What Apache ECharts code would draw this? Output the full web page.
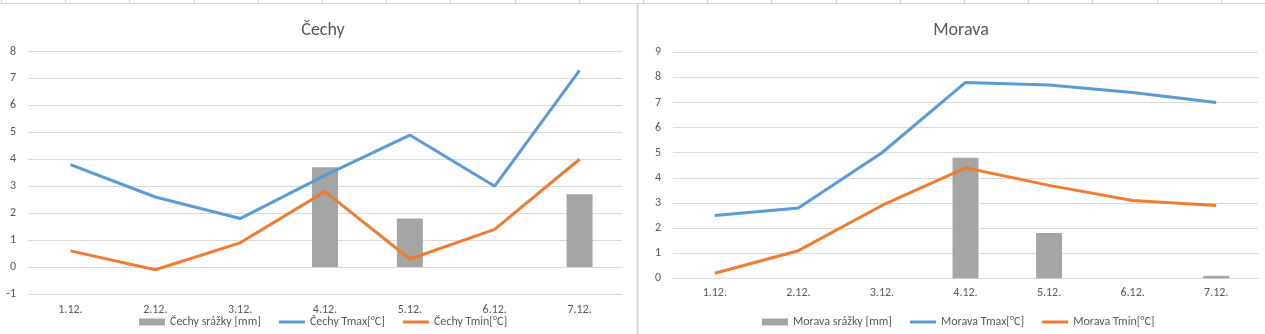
<!DOCTYPE html>
<html>
<head>
<meta charset="utf-8">
<script src="https://cdn.jsdelivr.net/npm/echarts@6/dist/echarts.min.js"></script>
<style>
html,body{margin:0;padding:0;background:#fff;}
#c{width:1265px;height:334px;}
</style>
</head>
<body>
<div id="c"></div>
<script>
const categories = ['1.12.', '2.12.', '3.12.', '4.12.', '5.12.', '6.12.', '7.12.'];

const cechySrazky = [0, 0, 0, 3.7, 1.8, 0, 2.7];
const cechyTmax = [3.8, 2.6, 1.8, 3.4, 4.9, 3.0, 7.3];
const cechyTmin = [0.6, -0.1, 0.9, 2.8, 0.3, 1.4, 4.0];

const moravaSrazky = [0, 0, 0, 4.8, 1.8, 0, 0.1];
const moravaTmax = [2.5, 2.8, 5.0, 7.8, 7.7, 7.4, 7.0];
const moravaTmin = [0.2, 1.1, 2.9, 4.4, 3.7, 3.1, 2.9];

const titles = ['Čechy', 'Morava'];
const seriesNames = [
  ['Čechy srážky [mm]', 'Čechy Tmax[°C]', 'Čechy Tmin[°C]'],
  ['Morava srážky [mm]', 'Morava Tmax[°C]', 'Morava Tmin[°C]']
];

const FONT = 'Carlito, Lato, sans-serif';
const TXT = '#595959';
const GRID = '#d9d9d9';
const C_BAR = '#a5a5a5', C_MAX = '#5b9bd5', C_MIN = '#ed7d31';
const LINE_ICON = 'path://M0,0L26,0L26,3L0,3Z';

const chart = echarts.init(document.getElementById('c'), null, {renderer: 'canvas'});

// spreadsheet strip graphics
const graphics = [
  {type: 'line', shape: {x1: 0, y1: 3.5, x2: 1265, y2: 3.5}, style: {stroke: '#d4d4d4', lineWidth: 1}, silent: true},
  {type: 'rect', shape: {x: 636.5, y: 4, width: 2, height: 330}, style: {fill: '#d9d9d9'}, silent: true}
];
for (let x = 1; x < 1265; x += 64.2) {
  graphics.push({type: 'line', shape: {x1: Math.round(x) + 0.5, y1: 0, x2: Math.round(x) + 0.5, y2: 3.5}, style: {stroke: '#d4d4d4', lineWidth: 1}, silent: true});
}

function xAx(gi, margin) {
  return {
    type: 'category', gridIndex: gi, data: categories,
    axisTick: {show: false},
    axisLine: {show: true, onZero: true, lineStyle: {color: GRID, width: 1}},
    axisLabel: {color: TXT, fontFamily: FONT, fontSize: 12, margin: margin}
  };
}
function yAx(gi, min, max) {
  return {
    type: 'value', gridIndex: gi, min: min, max: max, interval: 1,
    axisLine: {show: false}, axisTick: {show: false},
    axisLabel: {color: TXT, fontFamily: FONT, fontSize: 12, margin: 12},
    splitLine: {lineStyle: {color: GRID, width: 1}}
  };
}
function mkSeries(gi, bars, tmax, tmin) {
  const n = seriesNames[gi];
  return [
    {name: n[0], type: 'bar', xAxisIndex: gi, yAxisIndex: gi, data: bars, barWidth: 26, itemStyle: {color: C_BAR}, silent: true},
    {name: n[1], type: 'line', xAxisIndex: gi, yAxisIndex: gi, data: tmax, symbol: 'none', showSymbol: false, lineStyle: {color: C_MAX, width: 3}, itemStyle: {color: C_MAX}, silent: true},
    {name: n[2], type: 'line', xAxisIndex: gi, yAxisIndex: gi, data: tmin, symbol: 'none', showSymbol: false, lineStyle: {color: C_MIN, width: 3}, itemStyle: {color: C_MIN}, silent: true}
  ];
}
function legend(gi, left) {
  const n = seriesNames[gi];
  return {
    data: [
      {name: n[0], icon: 'rect'},
      {name: n[1], icon: LINE_ICON},
      {name: n[2], icon: LINE_ICON}
    ],
    left: left, top: 311, itemWidth: 26, itemHeight: 7, itemGap: 18, symbolKeepAspect: true,
    textStyle: {color: TXT, fontFamily: FONT, fontSize: 12}, selectedMode: false
  };
}

chart.setOption({
  animation: false,
  graphic: graphics,
  title: [
    {text: titles[0], left: 318, top: 16, textAlign: 'center', textStyle: {color: TXT, fontFamily: FONT, fontSize: 18, fontWeight: 'normal'}},
    {text: titles[1], left: 956, top: 16, textAlign: 'center', textStyle: {color: TXT, fontFamily: FONT, fontSize: 18, fontWeight: 'normal'}}
  ],
  legend: [legend(0, 134), legend(1, 757)],
  grid: [
    {left: 28, right: 643, top: 51.5, bottom: 40},
    {left: 673, right: 7, top: 52.3, bottom: 55.7}
  ],
  xAxis: [xAx(0, 10), xAx(1, 9)],
  yAxis: [yAx(0, -1, 8), yAx(1, 0, 9)],
  series: [].concat(mkSeries(0, cechySrazky, cechyTmax, cechyTmin), mkSeries(1, moravaSrazky, moravaTmax, moravaTmin))
});
</script>
</body>
</html>
